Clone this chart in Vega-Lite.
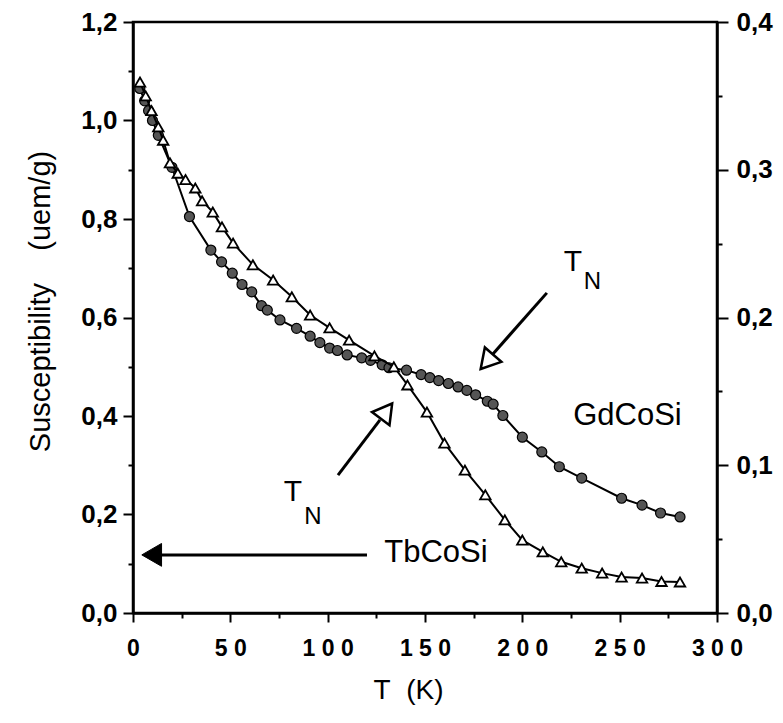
{
  "$schema": "https://vega.github.io/schema/vega-lite/v6.json",
  "width": 584,
  "height": 591,
  "autosize": {"type": "none"},
  "padding": {"left": 133, "top": 22, "right": 66, "bottom": 110},
  "background": "white",
  "config": {
    "view": {"stroke": "black", "strokeWidth": 2.5},
    "font": "Liberation Sans",
    "axis": {
      "domainColor": "black", "domainWidth": 2.5, "tickColor": "black", "tickWidth": 2,
      "labelColor": "black", "titleColor": "black", "grid": false,
      "labelFont": "Liberation Sans", "titleFont": "Liberation Sans",
      "labelFlush": false, "labelOverlap": false, "titleFontWeight": "normal", "labelFontWeight": "bold"
    }
  },
  "datasets": {
    "gd": [
      {"T": 3.5, "chi": 1.065}, {"T": 6, "chi": 1.04}, {"T": 8, "chi": 1.02}, {"T": 10, "chi": 1.0},
      {"T": 13, "chi": 0.97}, {"T": 20, "chi": 0.905}, {"T": 29, "chi": 0.805}, {"T": 40, "chi": 0.737},
      {"T": 45.5, "chi": 0.713}, {"T": 51, "chi": 0.69}, {"T": 56, "chi": 0.667}, {"T": 61, "chi": 0.652},
      {"T": 66, "chi": 0.624}, {"T": 69, "chi": 0.615}, {"T": 75.5, "chi": 0.595}, {"T": 84, "chi": 0.578},
      {"T": 91, "chi": 0.562}, {"T": 96, "chi": 0.549}, {"T": 101, "chi": 0.538}, {"T": 105, "chi": 0.533},
      {"T": 110, "chi": 0.524}, {"T": 117.5, "chi": 0.518}, {"T": 122, "chi": 0.513}, {"T": 128, "chi": 0.504},
      {"T": 131.5, "chi": 0.498}, {"T": 140.5, "chi": 0.493}, {"T": 148, "chi": 0.484}, {"T": 152.5, "chi": 0.478},
      {"T": 157, "chi": 0.472}, {"T": 162, "chi": 0.466}, {"T": 167, "chi": 0.459}, {"T": 171.5, "chi": 0.452},
      {"T": 176, "chi": 0.443}, {"T": 182, "chi": 0.43}, {"T": 185, "chi": 0.424}, {"T": 190, "chi": 0.401},
      {"T": 200, "chi": 0.357}, {"T": 210, "chi": 0.327}, {"T": 219, "chi": 0.297}, {"T": 230.5, "chi": 0.274},
      {"T": 251, "chi": 0.233}, {"T": 261.5, "chi": 0.219}, {"T": 271, "chi": 0.203}, {"T": 281, "chi": 0.195}
    ],
    "tb": [
      {"T": 3.6, "chi": 1.078}, {"T": 6.5, "chi": 1.05}, {"T": 9.5, "chi": 1.02}, {"T": 13, "chi": 0.987},
      {"T": 15.5, "chi": 0.96}, {"T": 19, "chi": 0.914}, {"T": 23, "chi": 0.893}, {"T": 27, "chi": 0.88},
      {"T": 32, "chi": 0.863}, {"T": 35.5, "chi": 0.837}, {"T": 41, "chi": 0.814}, {"T": 45.7, "chi": 0.784},
      {"T": 51.4, "chi": 0.751}, {"T": 61.6, "chi": 0.707}, {"T": 72, "chi": 0.676}, {"T": 81.6, "chi": 0.642},
      {"T": 91, "chi": 0.605}, {"T": 101, "chi": 0.579}, {"T": 111, "chi": 0.554}, {"T": 124, "chi": 0.522},
      {"T": 134, "chi": 0.5}, {"T": 141, "chi": 0.463}, {"T": 151, "chi": 0.408}, {"T": 160, "chi": 0.345},
      {"T": 170.5, "chi": 0.29}, {"T": 181, "chi": 0.24}, {"T": 191, "chi": 0.189}, {"T": 200, "chi": 0.148},
      {"T": 210.5, "chi": 0.124}, {"T": 220, "chi": 0.104}, {"T": 230.5, "chi": 0.091}, {"T": 241, "chi": 0.081},
      {"T": 251, "chi": 0.073}, {"T": 261.5, "chi": 0.071}, {"T": 271.5, "chi": 0.064}, {"T": 281, "chi": 0.063}
    ],
    "arrows": [
      {"a": "tn1", "o": 0, "T": 212.6, "chi": 0.65}, {"a": "tn1", "o": 1, "T": 184.9, "chi": 0.526},
      {"a": "tn2", "o": 0, "T": 105.3, "chi": 0.28}, {"a": "tn2", "o": 1, "T": 126.9, "chi": 0.392},
      {"a": "tb", "o": 0, "T": 120.2, "chi": 0.118}, {"a": "tb", "o": 1, "T": 9, "chi": 0.118}
    ],
    "head1": [{"T": 181.8, "chi": 0.51}],
    "head2": [{"T": 130.2, "chi": 0.41}],
    "head3": [{"T": 9.6, "chi": 0.118}],
    "tlabels": [{"T": 226, "chi": 0.713, "txt": "T"}, {"T": 82.2, "chi": 0.246, "txt": "T"}],
    "nlabels": [{"T": 236, "chi": 0.672, "txt": "N"}, {"T": 92.4, "chi": 0.195, "txt": "N"}],
    "names": [{"T": 254, "chi": 0.4, "txt": "GdCoSi"}, {"T": 155.6, "chi": 0.122, "txt": "TbCoSi"}],
    "right": [{"r": 0}, {"r": 0.4}]
  },
  "layer": [
    {
      "encoding": {
        "x": {
          "field": "T", "type": "quantitative",
          "scale": {"domain": [0, 300], "nice": false},
          "axis": {
            "values": [0, 25, 50, 75, 100, 125, 150, 175, 200, 225, 250, 275, 300],
            "format": "d",
            "labelExpr": "datum.value % 50 == 0 ? join(split(datum.label, ''), '\u00a0') : ''",
            "tickSize": {"condition": {"test": "datum.value % 50 != 0", "value": 5}, "value": 9},
            "labelFontSize": 23, "labelPadding": 15,
            "title": "T\u00a0\u00a0(K)", "titleFontSize": 28, "titleX": 275, "titleY": 77, "titleBaseline": "middle"
          }
        },
        "y": {
          "field": "chi", "type": "quantitative",
          "scale": {"domain": [0, 1.2], "nice": false},
          "axis": {
            "values": [0, 0.1, 0.2, 0.3, 0.4, 0.5, 0.6, 0.7, 0.8, 0.9, 1.0, 1.1, 1.2],
            "labelExpr": "round(datum.value * 10) % 2 == 0 ? replace(format(datum.value, '.1f'), '.', ',') : ''",
            "tickSize": {"condition": {"test": "round(datum.value * 10) % 2 == 1", "value": 5}, "value": 10},
            "labelFontSize": 26, "labelPadding": 6, "labelBaseline": "middle",
            "title": "Susceptibility\u00a0\u00a0\u00a0\u00a0(uem/g)", "titleFontSize": 29,
            "titleX": -93, "titleY": 279, "titleAngle": -90, "titleAlign": "center", "titleBaseline": "middle"
          }
        }
      },
      "layer": [
        {"data": {"name": "gd"}, "mark": {"type": "line", "color": "black", "strokeWidth": 2}},
        {"data": {"name": "gd"}, "mark": {"type": "point", "shape": "circle", "filled": true, "fill": "#555555", "stroke": "black", "strokeWidth": 1.2, "size": 100, "opacity": 1}},
        {"data": {"name": "tb"}, "mark": {"type": "line", "color": "black", "strokeWidth": 2}},
        {"data": {"name": "tb"}, "mark": {"type": "point", "shape": "triangle-up", "filled": true, "fill": "white", "stroke": "black", "strokeWidth": 1.8, "size": 110, "opacity": 1}},
        {"data": {"name": "arrows"}, "mark": {"type": "line", "color": "black", "strokeWidth": 3},
         "encoding": {"detail": {"field": "a"}, "order": {"field": "o"}}},
        {"data": {"name": "head1"}, "mark": {"type": "point", "shape": "triangle-up", "angle": 221, "filled": true, "fill": "white", "stroke": "black", "strokeWidth": 2.5, "size": 480, "opacity": 1}},
        {"data": {"name": "head2"}, "mark": {"type": "point", "shape": "triangle-up", "angle": 37, "filled": true, "fill": "white", "stroke": "black", "strokeWidth": 2.5, "size": 480, "opacity": 1}},
        {"data": {"name": "head3"}, "mark": {"type": "point", "shape": "triangle-left", "filled": true, "fill": "black", "stroke": "black", "strokeWidth": 1, "size": 520, "opacity": 1}},
        {"data": {"name": "tlabels"}, "mark": {"type": "text", "fontSize": 30, "color": "black", "baseline": "middle", "align": "center"},
         "encoding": {"text": {"field": "txt"}}},
        {"data": {"name": "nlabels"}, "mark": {"type": "text", "fontSize": 24, "color": "black", "baseline": "middle", "align": "center"},
         "encoding": {"text": {"field": "txt"}}},
        {"data": {"name": "names"}, "mark": {"type": "text", "fontSize": 31, "color": "black", "baseline": "middle", "align": "center"},
         "encoding": {"text": {"field": "txt"}}}
      ]
    },
    {
      "data": {"name": "right"},
      "mark": {"type": "point", "opacity": 0},
      "encoding": {
        "y": {
          "field": "r", "type": "quantitative",
          "scale": {"domain": [0, 0.4], "nice": false},
          "axis": {
            "orient": "right",
            "values": [0, 0.05, 0.1, 0.15, 0.2, 0.25, 0.3, 0.35, 0.4],
            "labelExpr": "round(datum.value * 100) % 10 == 0 ? replace(format(datum.value, '.1f'), '.', ',') : ''",
            "tickSize": {"condition": {"test": "round(datum.value * 100) % 10 != 0", "value": 5}, "value": 11},
            "labelFontSize": 26, "labelPadding": 8, "labelBaseline": "middle",
            "title": null
          }
        }
      }
    }
  ],
  "resolve": {"scale": {"y": "independent"}}
}
